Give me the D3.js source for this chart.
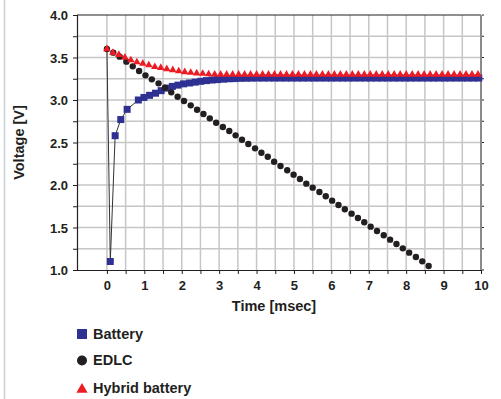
<!DOCTYPE html>
<html>
<head>
<meta charset="utf-8">
<script src="https://cdn.jsdelivr.net/npm/d3@7"></script>
<style>
  html, body { margin: 0; padding: 0; background: #fff; }
  svg { display: block; }
  text { font-family: "Liberation Sans", Arial, Helvetica, sans-serif; fill: #231f20; }
</style>
</head>
<body>
<svg id="chart" width="501" height="399"></svg>
<script>
// Discharge voltage of three storage devices over time
const batteryTime = [0, 0.09, 0.22, 0.37, 0.54, 0.84, 0.99, 1.14, 1.30, 1.45, 1.60, 1.75, 1.90, 2.05, 2.21,
  2.36, 2.51, 2.66, 2.81, 2.96, 3.12, 3.27, 3.42, 3.57, 3.72, 3.87, 4.03, 4.18, 4.33, 4.48, 4.63, 4.78,
  4.94, 5.09, 5.24, 5.39, 5.54, 5.69, 5.85, 6.00, 6.15, 6.30, 6.45, 6.60, 6.76, 6.91, 7.06, 7.21, 7.36,
  7.51, 7.67, 7.82, 7.97, 8.12, 8.27, 8.42, 8.58, 8.73, 8.88, 9.03, 9.18, 9.33, 9.49, 9.64, 9.79, 9.94];
const batteryVolt = [3.60, 1.10, 2.58, 2.77, 2.89, 3.00, 3.03, 3.055, 3.08, 3.11, 3.14, 3.16, 3.175, 3.19, 3.20,
  3.21, 3.22, 3.228, 3.235, 3.24, 3.245, 3.25, 3.252, 3.255, 3.256, 3.257, 3.258, 3.258, 3.258, 3.258, 3.258, 3.258,
  3.258, 3.258, 3.258, 3.258, 3.258, 3.258, 3.258, 3.258, 3.258, 3.258, 3.258, 3.258, 3.258, 3.258, 3.258, 3.258, 3.258,
  3.258, 3.258, 3.258, 3.258, 3.258, 3.258, 3.258, 3.258, 3.258, 3.258, 3.258, 3.258, 3.258, 3.258, 3.258, 3.258, 3.258];

const edlcTime = [0, 0.17, 0.34, 0.52, 0.69, 0.86, 1.03, 1.20, 1.38, 1.55, 1.72, 1.89, 2.06, 2.24, 2.41, 2.58,
  2.75, 2.92, 3.10, 3.27, 3.44, 3.61, 3.78, 3.96, 4.13, 4.30, 4.47, 4.64, 4.82, 4.99, 5.16, 5.33, 5.50, 5.68,
  5.85, 6.02, 6.19, 6.36, 6.54, 6.71, 6.88, 7.05, 7.22, 7.40, 7.57, 7.74, 7.91, 8.08, 8.26, 8.43, 8.60];
const edlcVolt = [3.600, 3.557, 3.510, 3.451, 3.396, 3.341, 3.290, 3.243, 3.196, 3.145, 3.090, 3.039, 2.988,
  2.937, 2.886, 2.835, 2.784, 2.733, 2.682, 2.635, 2.584, 2.533, 2.482, 2.431, 2.380, 2.333, 2.274, 2.224,
  2.173, 2.122, 2.071, 2.016, 1.969, 1.918, 1.867, 1.816, 1.765, 1.714, 1.663, 1.612, 1.561, 1.510, 1.459,
  1.408, 1.357, 1.306, 1.255, 1.204, 1.153, 1.102, 1.047];

const hybridTime = [0.00, 0.16, 0.32, 0.48, 0.64, 0.80, 0.96, 1.12, 1.28, 1.44, 1.60, 1.76, 1.92, 2.08, 2.24,
  2.40, 2.56, 2.72, 2.88, 3.04, 3.20, 3.36, 3.52, 3.68, 3.84, 4.00, 4.16, 4.32, 4.48, 4.64, 4.80, 4.96, 5.12,
  5.28, 5.44, 5.60, 5.76, 5.92, 6.08, 6.24, 6.40, 6.56, 6.72, 6.88, 7.04, 7.20, 7.36, 7.52, 7.68, 7.84, 8.00,
  8.16, 8.32, 8.48, 8.64, 8.80, 8.96, 9.12, 9.28, 9.44, 9.60, 9.76, 9.92];
const hybridVolt = [3.60, 3.556, 3.533, 3.50, 3.47, 3.445, 3.43, 3.41, 3.39, 3.38, 3.365, 3.353, 3.34, 3.33, 3.322,
  3.315, 3.31, 3.305, 3.302, 3.30, 3.30, 3.30, 3.30, 3.30, 3.30, 3.30, 3.30, 3.30, 3.30, 3.30, 3.30, 3.30, 3.30,
  3.30, 3.30, 3.30, 3.30, 3.30, 3.30, 3.30, 3.30, 3.30, 3.30, 3.30, 3.30, 3.30, 3.30, 3.30, 3.30, 3.30, 3.30,
  3.30, 3.30, 3.30, 3.30, 3.30, 3.30, 3.30, 3.30, 3.30, 3.30, 3.30, 3.30];

const xTickLabels = [0, 1, 2, 3, 4, 5, 6, 7, 8, 9, 10];
const yTickLabels = [1.0, 1.5, 2.0, 2.5, 3.0, 3.5, 4.0];
const xMinorTicks = [0, 0.5, 1, 1.5, 2, 2.5, 3, 3.5, 4, 4.5, 5, 5.5, 6, 6.5, 7, 7.5, 8, 8.5, 9, 9.5, 10];
const yMinorTicks = [1, 1.25, 1.5, 1.75, 2, 2.25, 2.5, 2.75, 3, 3.25, 3.5, 3.75, 4];
const seriesNames = ["Battery", "EDLC", "Hybrid battery"];
const seriesColors = ["#2e3192", "#231f20", "#ed1c24"];

const svg = d3.select("#chart");
const L = 77, R = 481, T = 15, B = 270;
const x = d3.scaleLinear().domain([-0.8, 10]).range([L, R]);
const y = d3.scaleLinear().domain([1, 4]).range([B, T]);

// page frame line on the far left
svg.append("line").attr("x1", 4.5).attr("x2", 4.5).attr("y1", 0).attr("y2", 399)
  .attr("stroke", "#c9d0d6").attr("stroke-width", 1.5);

// grid
const grid = svg.append("g");
grid.selectAll("line.v").data(xMinorTicks.filter(d => d < 10)).join("line")
  .attr("x1", d => x(d)).attr("x2", d => x(d)).attr("y1", T).attr("y2", B)
  .attr("stroke", "#c6c6c6").attr("stroke-width", 1.5);
grid.selectAll("line.h").data(yMinorTicks.filter(d => d > 1 && d < 4)).join("line")
  .attr("x1", L).attr("x2", R).attr("y1", d => y(d)).attr("y2", d => y(d))
  .attr("stroke", "#c6c6c6").attr("stroke-width", 1.5);

// frame: top line, right gray edge
svg.append("line").attr("x1", L).attr("x2", R).attr("y1", T).attr("y2", T)
  .attr("stroke", "#231f20").attr("stroke-width", 1);
svg.append("line").attr("x1", R).attr("x2", R).attr("y1", T).attr("y2", B)
  .attr("stroke", "#8a8a8a").attr("stroke-width", 2);
svg.append("g").selectAll("line").data(yMinorTicks).join("line")
  .attr("x1", R + 1).attr("x2", R + 3).attr("y1", d => y(d)).attr("y2", d => y(d))
  .attr("stroke", "#231f20").attr("stroke-width", 1);

// y axis
const yAxis = svg.append("g").attr("transform", `translate(${L},0)`)
  .call(d3.axisLeft(y).tickValues(yMinorTicks).tickSize(4)
    .tickFormat(d => yTickLabels.includes(d) ? d3.format(".1f")(d) : ""));
yAxis.select(".domain").attr("stroke", "#231f20").attr("stroke-width", 1.2);
yAxis.selectAll(".tick line").attr("stroke", "#231f20");
yAxis.selectAll(".tick text").attr("x", -9).attr("dy", "0.36em")
  .style("font-size", "13px").style("font-weight", "bold").attr("fill", "#231f20");

// x axis
const xAxis = svg.append("g").attr("transform", `translate(0,${B})`)
  .call(d3.axisBottom(x).tickValues(xMinorTicks).tickSize(4).tickSizeOuter(0)
    .tickFormat(d => xTickLabels.includes(d) ? String(d) : ""));
xAxis.select(".domain").attr("stroke", "#231f20").attr("stroke-width", 1.2);
xAxis.selectAll(".tick line").attr("stroke", "#231f20");
xAxis.selectAll(".tick text").attr("y", 11)
  .style("font-size", "13px").style("font-weight", "bold").attr("fill", "#231f20");

// axis titles
svg.append("text").attr("x", 274).attr("y", 311).attr("text-anchor", "middle")
  .style("font-size", "14.5px").style("font-weight", "bold").text("Time [msec]");
svg.append("text").attr("transform", "translate(23.5,142.5) rotate(-90)").attr("text-anchor", "middle")
  .style("font-size", "14.5px").style("font-weight", "bold").text("Voltage [V]");

// Battery: connected squares (the starting point is only a line vertex)
const batteryPts = batteryTime.map((t, i) => [t, batteryVolt[i]]);
svg.append("path").datum(batteryPts)
  .attr("d", d3.line().x(d => x(d[0])).y(d => y(d[1])))
  .attr("fill", "none").attr("stroke", "#333").attr("stroke-width", 1);
svg.append("g").selectAll("rect").data(batteryPts.slice(1)).join("rect")
  .attr("x", d => x(d[0]) - 3.5).attr("y", d => y(d[1]) - 3.5)
  .attr("width", 7).attr("height", 7).attr("fill", seriesColors[0]);

// EDLC: dots
svg.append("g").selectAll("circle").data(edlcTime.map((t, i) => [t, edlcVolt[i]])).join("circle")
  .attr("cx", d => x(d[0])).attr("cy", d => y(d[1])).attr("r", 3.2)
  .attr("fill", seriesColors[1]);

// Hybrid battery: triangles
const tri = d3.symbol().type(d3.symbolTriangle).size(25);
svg.append("g").selectAll("path").data(hybridTime.map((t, i) => [t, hybridVolt[i]])).join("path")
  .attr("d", tri).attr("transform", d => `translate(${x(d[0])},${y(d[1])})`)
  .attr("fill", seriesColors[2]);

// legend
const legend = svg.append("g");
const rowY = [334, 360, 388];
seriesNames.forEach((name, i) => {
  const cy = rowY[i];
  if (i === 0) legend.append("rect").attr("x", 77).attr("y", cy - 5).attr("width", 10).attr("height", 10).attr("fill", seriesColors[0]);
  if (i === 1) legend.append("circle").attr("cx", 82).attr("cy", cy + 0.5).attr("r", 5).attr("fill", seriesColors[1]);
  if (i === 2) legend.append("path").attr("d", d3.symbol().type(d3.symbolTriangle).size(55))
    .attr("transform", `translate(82,${cy + 1.5})`).attr("fill", seriesColors[2]);
  legend.append("text").attr("x", 93).attr("y", cy + 5.3)
    .style("font-size", "14.5px").style("font-weight", "bold").text(name);
});
</script>
</body>
</html>
